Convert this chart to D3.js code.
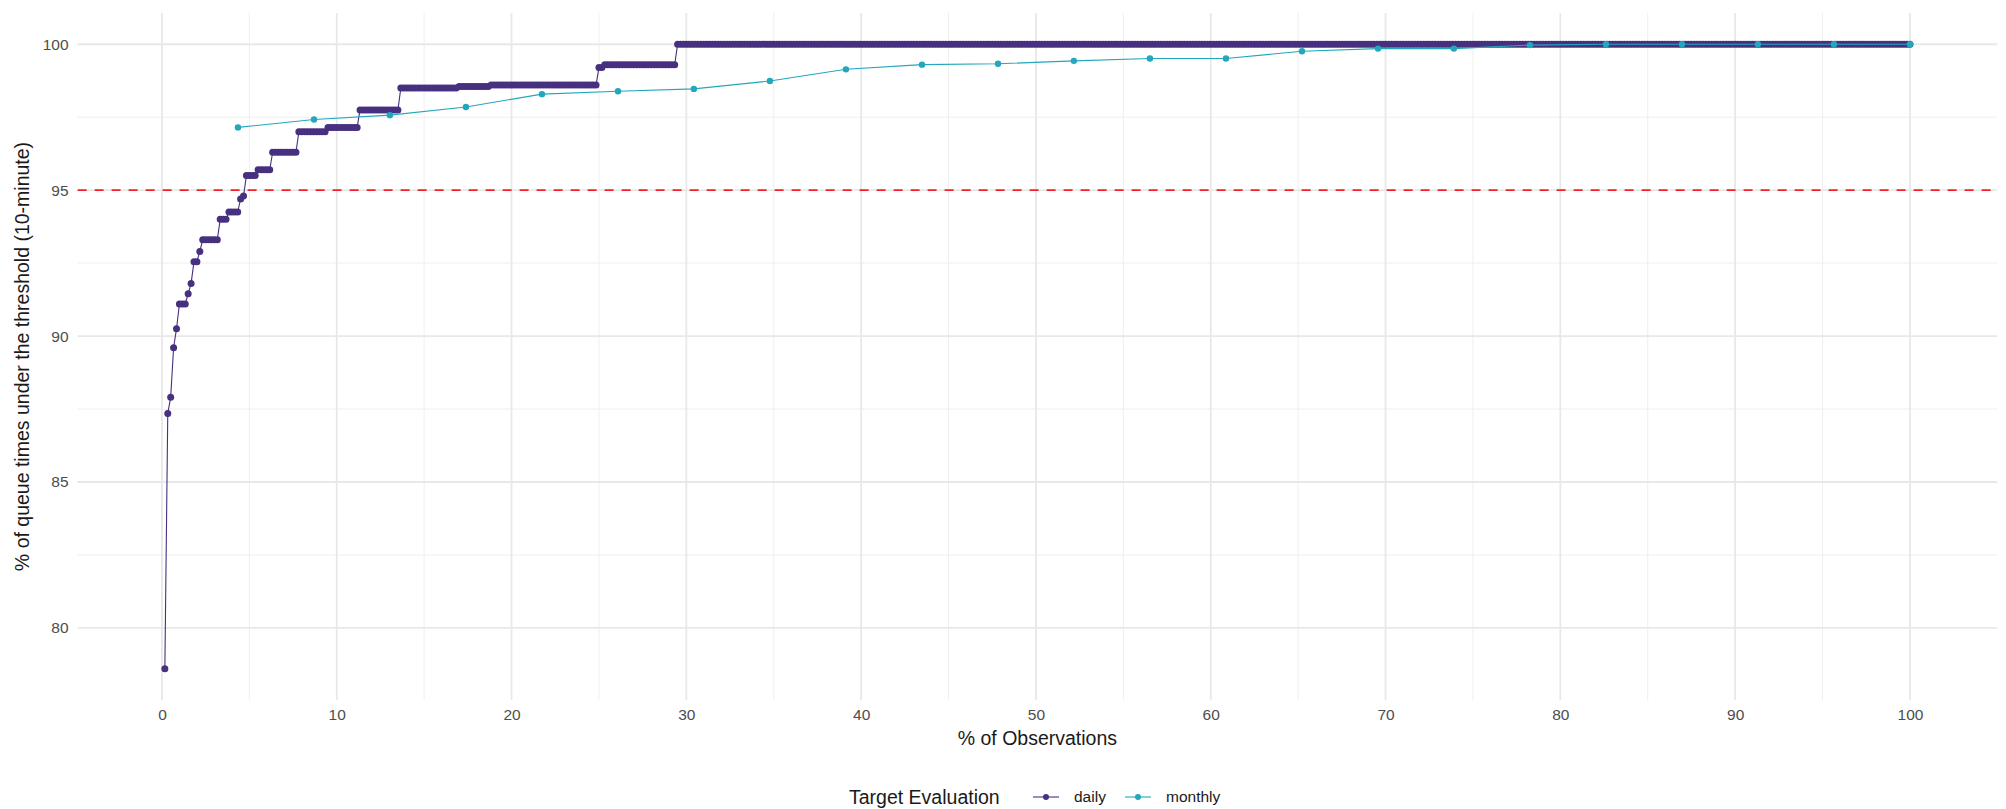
<!DOCTYPE html>
<html>
<head>
<meta charset="utf-8">
<script src="https://cdn.jsdelivr.net/npm/d3@7"></script>
<style>
  html, body { margin: 0; padding: 0; background: #ffffff; }
  svg { display: block; }
  text { font-family: "Liberation Sans", Arial, Helvetica, sans-serif; }
</style>
</head>
<body>
<svg id="chart" width="2006" height="809"></svg>
<script>
// ---------------- DATA ----------------
// Daily: distinct sorted levels (% under threshold) and number of days at each level
const dailyLevels = [78.6, 87.35, 87.9, 89.6, 90.25, 91.1, 91.45, 91.8, 92.55, 92.9, 93.3, 94.0, 94.25, 94.7, 94.8, 95.5, 95.7, 96.3, 97.0, 97.15, 97.75, 98.5, 98.55, 98.6, 99.2, 99.3, 100];
const dailyCounts = [1, 1, 1, 1, 1, 3, 1, 1, 2, 1, 6, 3, 4, 1, 1, 4, 5, 9, 10, 11, 14, 20, 11, 37, 2, 25, 424];

// Monthly: % of observations and % under threshold
const monthlyX = [4.35, 8.70, 13.04, 17.39, 21.74, 26.09, 30.43, 34.78, 39.13, 43.48, 47.83, 52.17, 56.52, 60.87, 65.22, 69.57, 73.91, 78.26, 82.61, 86.96, 91.30, 95.65, 100];
const monthlyY = [97.15, 97.42, 97.57, 97.85, 98.29, 98.39, 98.47, 98.74, 99.14, 99.30, 99.33, 99.43, 99.51, 99.51, 99.76, 99.85, 99.85, 99.97, 100, 100, 100, 100, 100];

const xTicks = [0, 10, 20, 30, 40, 50, 60, 70, 80, 90, 100];
const yTicks = [80, 85, 90, 95, 100];
const xMinor = [5, 15, 25, 35, 45, 55, 65, 75, 85, 95];
const yMinor = [82.5, 87.5, 92.5, 97.5];
const targetLine = 95;

const seriesNames = ["daily", "monthly"];
const seriesColors = ["#47307F", "#22A7BD"];

const xTitle = "% of Observations";
const yTitle = "% of queue times under the threshold (10-minute)";
const legendTitle = "Target Evaluation";

// ---------------- BUILD POINTS ----------------
const nDaily = d3.sum(dailyCounts);
const daily = [];
let idx = 0;
dailyLevels.forEach((lv, i) => {
  for (let c = 0; c < dailyCounts[i]; c++) {
    idx++;
    daily.push({ x: idx / nDaily * 100, y: lv });
  }
});
const monthly = monthlyX.map((x, i) => ({ x: x, y: monthlyY[i] }));

// ---------------- SCALES ----------------
const allX = daily.map(d => d.x).concat(monthlyX);
const allY = daily.map(d => d.y).concat(monthlyY);
const xExt = d3.extent(allX), yExt = d3.extent(allY);
const xPad = (xExt[1] - xExt[0]) * 0.05, yPad = (yExt[1] - yExt[0]) * 0.05;

const panel = { left: 77.6, right: 1997.2, top: 13, bottom: 700 };

const x = d3.scaleLinear().domain([xExt[0] - xPad, xExt[1] + xPad]).range([panel.left, panel.right]);
const y = d3.scaleLinear().domain([yExt[0] - yPad, yExt[1] + yPad]).range([panel.bottom, panel.top]);

const svg = d3.select("#chart");
svg.append("rect").attr("width", 2006).attr("height", 809).attr("fill", "#ffffff");

// ---------------- GRID ----------------
const grid = svg.append("g");
grid.selectAll(".xminor").data(xMinor).join("line")
  .attr("x1", d => x(d)).attr("x2", d => x(d))
  .attr("y1", panel.top).attr("y2", panel.bottom)
  .attr("stroke", "#EFEFEF").attr("stroke-width", 1);
grid.selectAll(".yminor").data(yMinor).join("line")
  .attr("x1", panel.left).attr("x2", panel.right)
  .attr("y1", d => y(d)).attr("y2", d => y(d))
  .attr("stroke", "#EFEFEF").attr("stroke-width", 1);
grid.selectAll(".xmajor").data(xTicks).join("line")
  .attr("x1", d => x(d)).attr("x2", d => x(d))
  .attr("y1", panel.top).attr("y2", panel.bottom)
  .attr("stroke", "#E8E8E8").attr("stroke-width", 1.8);
grid.selectAll(".ymajor").data(yTicks).join("line")
  .attr("x1", panel.left).attr("x2", panel.right)
  .attr("y1", d => y(d)).attr("y2", d => y(d))
  .attr("stroke", "#E8E8E8").attr("stroke-width", 1.8);

// ---------------- AXES (labels only, theme_minimal) ----------------
const xAxis = d3.axisBottom(x).tickValues(xTicks).tickSize(0).tickPadding(0).tickFormat(d3.format("d"));
const gx = svg.append("g").attr("transform", `translate(0,${panel.bottom + 9})`).call(xAxis);
gx.select(".domain").remove();
gx.selectAll("text").attr("font-size", 15.5).attr("fill", "#4D4D4D")
  .attr("font-family", "Liberation Sans, Arial, sans-serif").attr("dy", "0.71em");

const yAxis = d3.axisLeft(y).tickValues(yTicks).tickSize(0).tickPadding(0).tickFormat(d3.format("d"));
const gy = svg.append("g").attr("transform", `translate(${panel.left - 9},0)`).call(yAxis);
gy.select(".domain").remove();
gy.selectAll("text").attr("font-size", 15.5).attr("fill", "#4D4D4D")
  .attr("font-family", "Liberation Sans, Arial, sans-serif");

// axis titles
svg.append("text").attr("x", (panel.left + panel.right) / 2).attr("y", 745)
  .attr("text-anchor", "middle").attr("font-size", 19.5).attr("fill", "#1a1a1a").text(xTitle);
svg.append("text").attr("transform", `translate(29,${(panel.top + panel.bottom) / 2}) rotate(-90)`)
  .attr("text-anchor", "middle").attr("font-size", 19.5).attr("fill", "#1a1a1a").text(yTitle);

// ---------------- TARGET LINE ----------------
svg.append("line")
  .attr("x1", panel.left).attr("x2", panel.right)
  .attr("y1", y(targetLine)).attr("y2", y(targetLine))
  .attr("stroke", "#F2222A").attr("stroke-width", 1.6).attr("stroke-dasharray", "9,8");

// ---------------- SERIES ----------------
const line = d3.line().x(d => x(d.x)).y(d => y(d.y));
const seriesData = [daily, monthly];
const radii = [3.5, 3.2];
seriesData.forEach((data, i) => {
  const g = svg.append("g");
  g.append("path").datum(data).attr("d", line)
    .attr("fill", "none").attr("stroke", seriesColors[i]).attr("stroke-width", 1.1);
  g.selectAll("circle").data(data).join("circle")
    .attr("cx", d => x(d.x)).attr("cy", d => y(d.y)).attr("r", radii[i])
    .attr("fill", seriesColors[i]);
});

// ---------------- LEGEND ----------------
const leg = svg.append("g");
const legY = 797;
leg.append("text").attr("x", 849).attr("y", legY).attr("dy", "0.35em")
  .attr("font-size", 19.5).attr("fill", "#1a1a1a").text(legendTitle);
const keyX = [1033, 1125];
const labX = [1074, 1166];
seriesNames.forEach((name, i) => {
  leg.append("line").attr("x1", keyX[i]).attr("x2", keyX[i] + 26)
    .attr("y1", legY).attr("y2", legY)
    .attr("stroke", seriesColors[i]).attr("stroke-width", 1.1);
  leg.append("circle").attr("cx", keyX[i] + 13).attr("cy", legY).attr("r", 3)
    .attr("fill", seriesColors[i]);
  leg.append("text").attr("x", labX[i]).attr("y", legY).attr("dy", "0.35em")
    .attr("font-size", 15.5).attr("fill", "#1a1a1a").text(name);
});
</script>
</body>
</html>
